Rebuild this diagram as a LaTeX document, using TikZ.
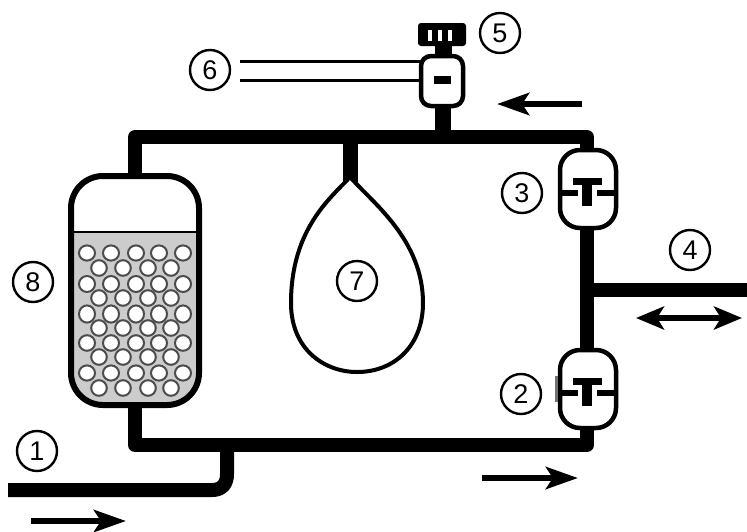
\documentclass[tikz,border=0pt]{standalone}
\usepackage{fontspec}
\setmainfont{Liberation Sans}
\usetikzlibrary{arrows.meta}
\tikzset{
 pipe/.style={line width=14pt,black,line join=round},
 num/.style={circle,draw=black,line width=2.4pt,fill=white,minimum size=40pt,inner sep=0pt,font=\fontsize{27pt}{27pt}\selectfont},
 flow/.style={line width=6.5pt,-{Stealth[length=32pt,width=22pt,inset=7pt]}},
 flowb/.style={line width=6.5pt,{Stealth[length=28pt,width=23pt,inset=7pt]}-{Stealth[length=28pt,width=23pt,inset=7pt]}},
 ball/.style={draw=black!70,line width=2pt,fill=white},
 shell/.style={draw=black,line width=4.5pt,fill=white}
}
\newcommand{\chk}[2]{%
 \draw[shell,rounded corners=20pt] (560,#1) rectangle (616,#2);
 \fill (573,#1+28) rectangle (602,#1+35);
 \fill (582,#1+28) rectangle (592,#1+56);
 \fill (560,#1+40) rectangle (578,#1+46);
 \fill (597,#1+40) rectangle (616,#1+46);
}
\begin{document}
\begin{tikzpicture}[x=1pt,y=-1pt]
\useasboundingbox (0,0) rectangle (747,531);
\coordinate (tl) at (135,137); \coordinate (tr) at (587,137);
\coordinate (bl) at (135,445); \coordinate (br) at (587,445);
\coordinate (inj) at (227,445); \coordinate (ins) at (8,490);
\coordinate (outj) at (587,290); \coordinate (oute) at (747,290);
\coordinate (drop) at (350,137); \coordinate (dropt) at (350,182);
\coordinate (vt) at (443,137);
% pipes
\draw[pipe] (bl) -- (tl) -- (tr) -- (br) -- cycle;
\draw[pipe] (ins) -- (212,490) .. controls (222,490) and (227,484) .. (227,474) -- (inj);
\draw[pipe] (outj) -- (oute);
\draw[pipe,line width=15pt] (drop) -- (dropt);
\draw[pipe,line width=16pt] (vt) -- (443,105);
% tank
\begin{scope}
\clip[rounded corners=30pt] (72,177) rectangle (198,403);
\fill[white] (72,177) rectangle (198,232);
\fill[black!20] (72,232) rectangle (198,403);
\end{scope}
\draw[black,line width=2.5pt] (72,232) -- (198,232);
\foreach \y/\ry in {253/7.6,284/8,314/8.6,343/7.8,373/7.6}{
 \foreach \x in {87,111,136,159,183}{\draw[ball] (\x,\y) ellipse (8pt and \ry pt);}}
\foreach \y in {268,298,328,357,388}{
 \foreach \x in {99,123,148,171}{\draw[ball] (\x,\y) circle (7.8pt);}}
\draw[black,line width=6pt,rounded corners=32pt] (71,176) rectangle (199,405);
% drop
\draw[shell,line width=4pt] (350,177) .. controls (332,197) and (291,228) .. (291,303)
 .. controls (291,350) and (325,372) .. (357,372)
 .. controls (395,372) and (423,345) .. (423,303)
 .. controls (423,240) and (373,203) .. (350,177) -- cycle;
% check valves
\chk{150}{228}
\chk{350}{428}
\fill[black!55] (555,376) rectangle (558,402);
% valve 5
\draw[black,line width=3pt] (240,61) -- (420,61);
\draw[black,line width=3pt] (240,80) -- (420,80);
\fill (435,44) rectangle (452,56);
\draw[shell,rounded corners=10pt] (421,56) rectangle (463,106);
\fill (434,76) rectangle (451,84);
\fill[rounded corners=3pt] (418,23) rectangle (466,46);
\foreach \x in {428,438,448}{\fill[white] (\x,30) rectangle (\x+4,41);}
% labels
\node[num] (n5) at (500,33) {5};
\node[num] (n6) at (210,70) {6};
\node[num] (n3) at (522,193) {3};
\node[num] (n4) at (690,250) {4};
\node[num] (n2) at (521,394) {2};
\node[num] (n8) at (33,282) {8};
\node[num] (n1) at (37,451) {1};
\node[num] (n7) at (357,281) {7};
% arrows
\draw[flow] (582,104) -- (497,104);
\draw[flow] (482,478) -- (578,478);
\draw[flow] (31,521) -- (126,521);
\draw[flowb] (636,318) -- (742,318);
\end{tikzpicture}
\end{document}
